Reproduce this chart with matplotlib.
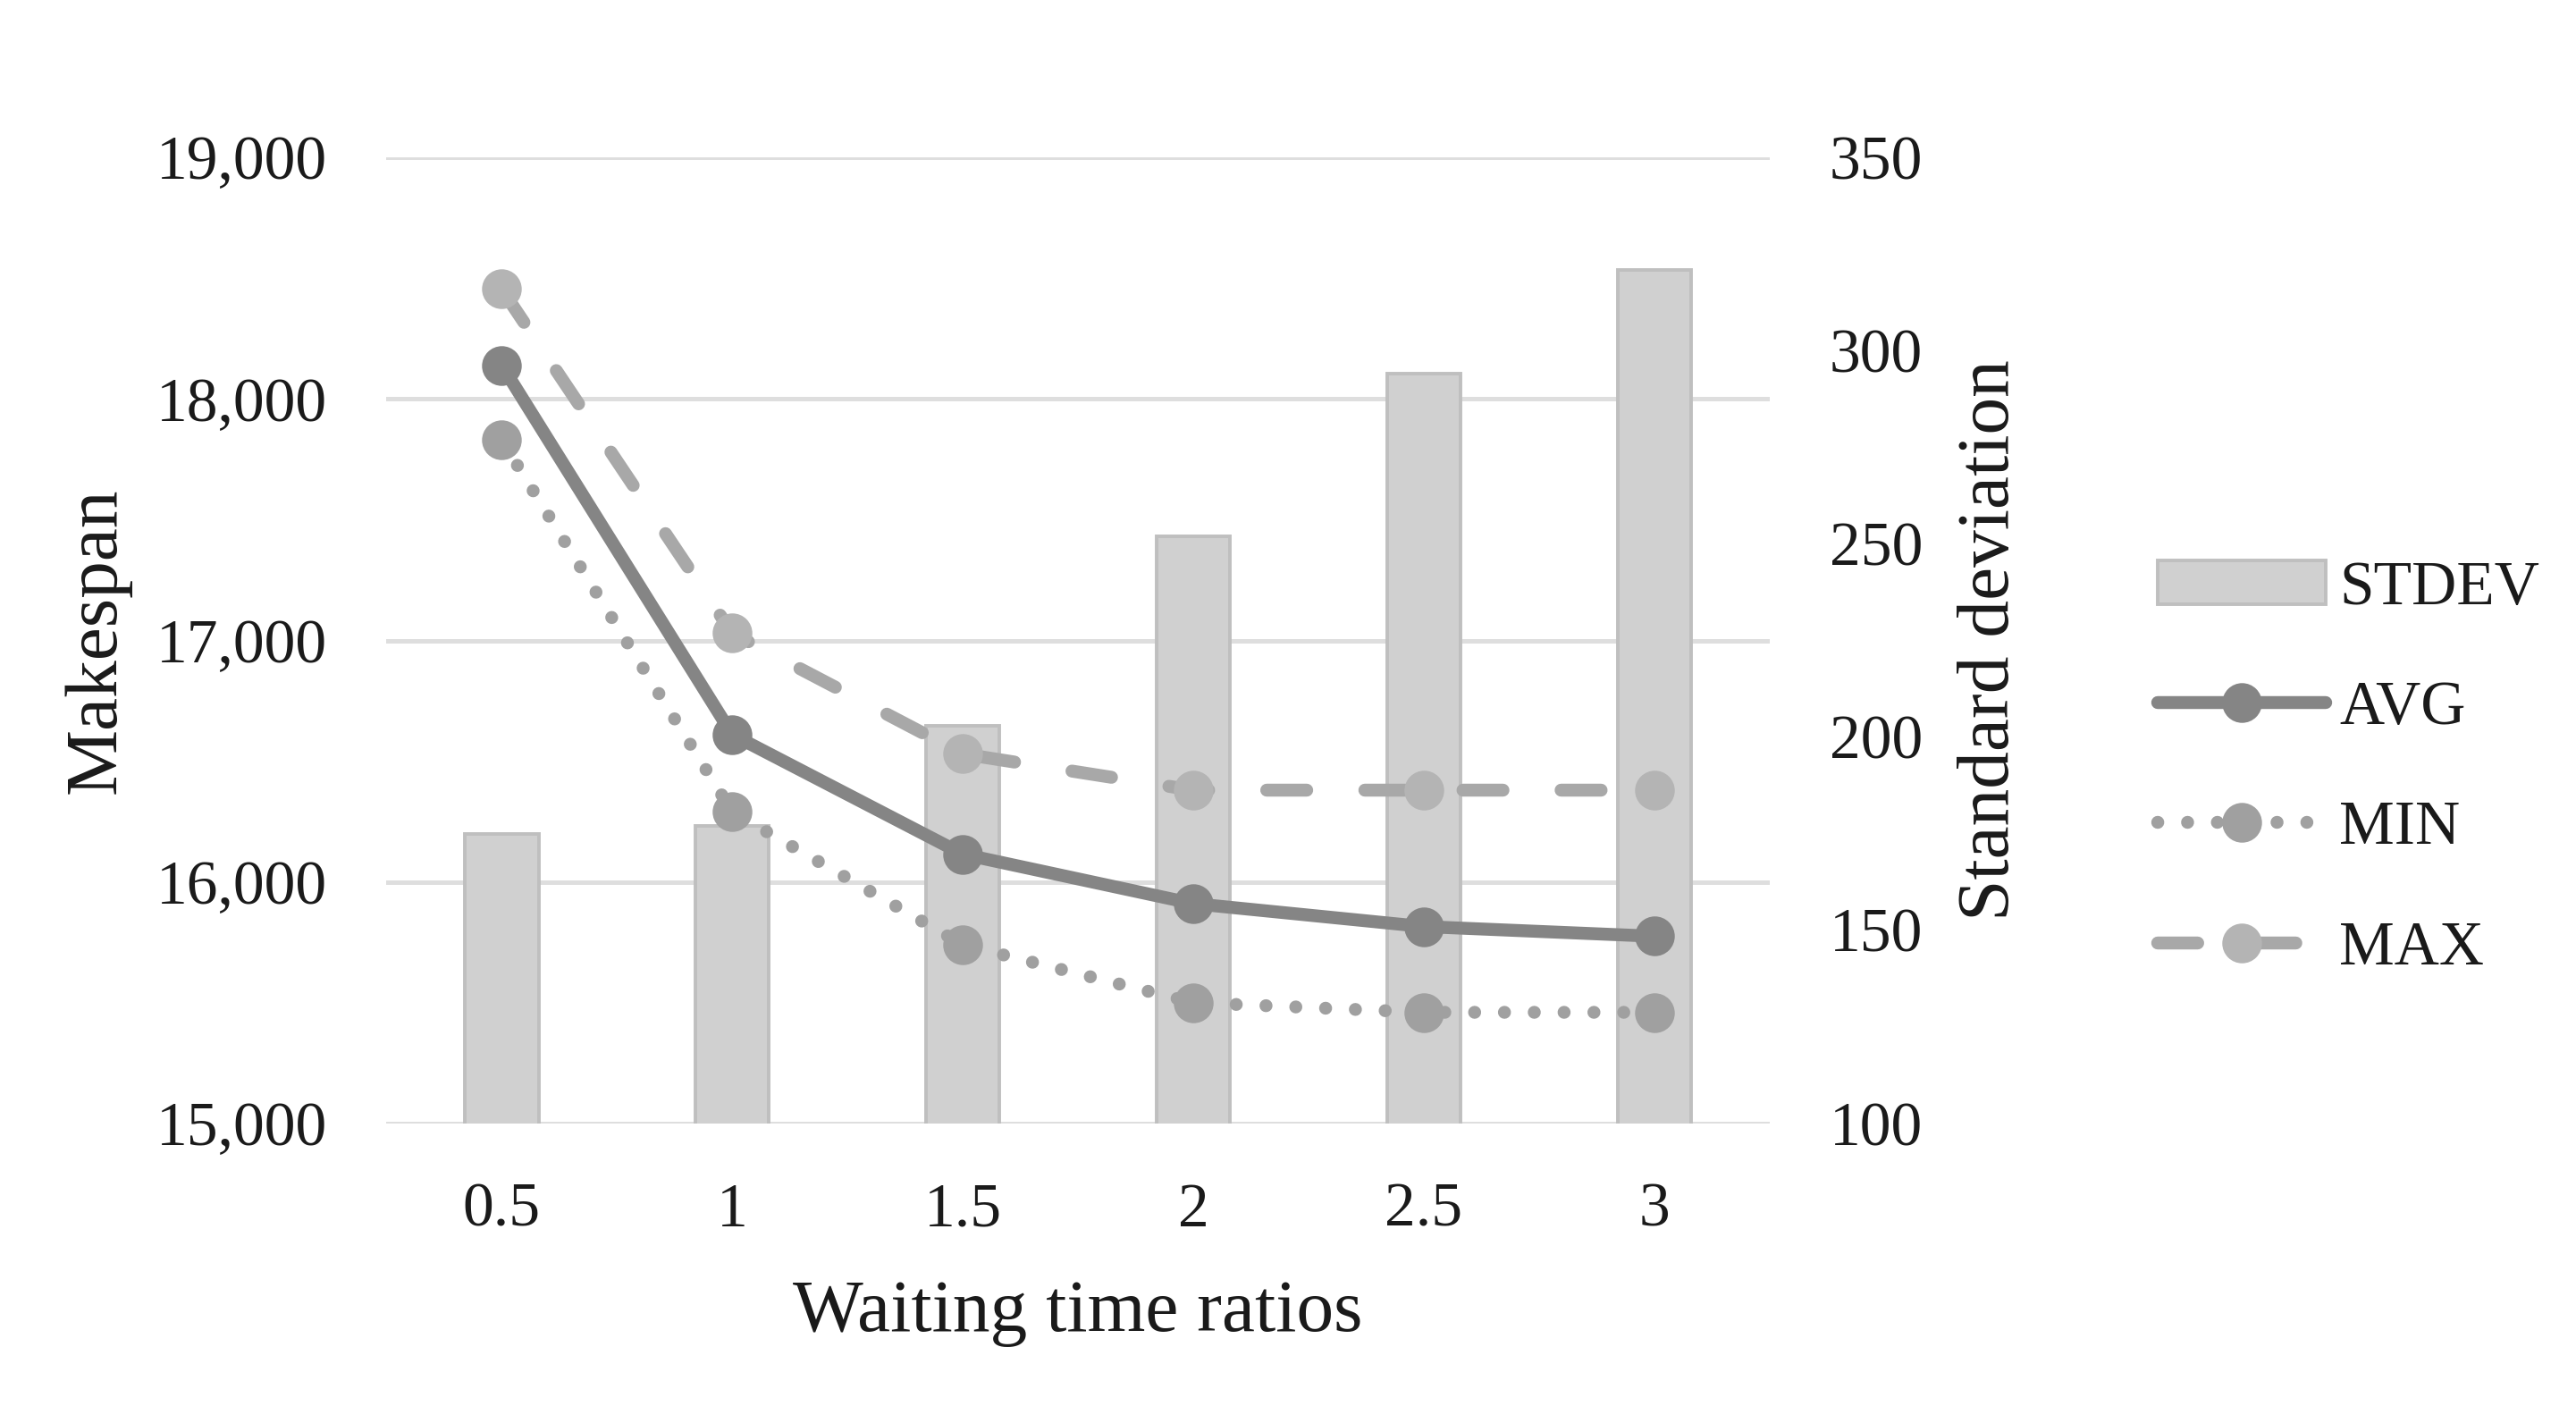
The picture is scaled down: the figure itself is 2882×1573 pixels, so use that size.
import numpy as np
import matplotlib.pyplot as plt

ratios = ["0.5", "1", "1.5", "2", "2.5", "3"]
avg = [18140, 16610, 16115, 15910, 15815, 15775]
mins = [17830, 16290, 15740, 15500, 15460, 15460]
maxs = [18455, 17030, 16530, 16380, 16380, 16380]
stdev = [175, 177, 203, 252, 294, 321]

plt.rcParams['font.family'] = ['Liberation Serif', 'DejaVu Serif']
txt = '#1a1a1a'

fig = plt.figure(figsize=(14.41, 7.865), dpi=200)
ax = fig.add_axes([0.150, 0.201, 0.537, 0.687])
x = np.arange(len(ratios))

# grid + left axis
ax.set_xlim(-0.5, len(ratios) - 0.5)
ax.set_ylim(15000, 19000)
ax.set_yticks([15000, 16000, 17000, 18000, 19000])
ax.set_yticklabels(['15,000', '16,000', '17,000', '18,000', '19,000'])
ax.yaxis.grid(True, color='#dedede', lw=1.8)
ax.set_axisbelow(True)
ax.set_xticks(x)
ax.set_xticklabels(ratios)
ax.tick_params(length=0, labelsize=25, colors=txt)
ax.tick_params(axis='y', pad=24)
ax.tick_params(axis='x', pad=24)
ax.set_ylabel('Makespan', fontsize=30, color=txt, labelpad=10)
ax.set_xlabel('Waiting time ratios', fontsize=30, color=txt, labelpad=16)
for s in ax.spines.values():
    s.set_visible(False)

# bars on right axis
ax2 = ax.twinx()
bars = ax2.bar(x, stdev, width=0.32, color='#d0d0d0', edgecolor='#bfbfbf', lw=1.4, label='STDEV')
ax2.set_ylim(100, 350)
ax2.set_yticks([100, 150, 200, 250, 300, 350])
ax2.tick_params(length=0, labelsize=25, colors=txt, pad=24)
ax2.set_ylabel('Standard deviation', fontsize=30, color=txt, labelpad=14)
for s in ax2.spines.values():
    s.set_visible(False)

# lines on top
ax3 = ax.twinx()
ax3.set_ylim(15000, 19000)
ax3.axis('off')
l1, = ax3.plot(x, avg, color='#858585', lw=5.2, marker='o', ms=15, label='AVG',
               solid_capstyle='round')
l2, = ax3.plot(x, mins, color='#a0a0a0', lw=5.2, marker='o', ms=15, label='MIN',
               linestyle=(0, (0.01, 2.3)), dash_capstyle='round')
l3, = ax3.plot(x, maxs, color='#a8a8a8', lw=5.2, marker='o', ms=15, label='MAX',
               markerfacecolor='#b4b4b4', markeredgecolor='#b4b4b4',
               linestyle=(0, (3.1, 4.5)), dash_capstyle='round')
ax3.set_xlim(-0.5, len(ratios) - 0.5)

fig.legend([bars, l1, l2, l3], ['STDEV', 'AVG', 'MIN', 'MAX'], loc='center left',
           bbox_to_anchor=(0.816, 0.453), frameon=False, fontsize=25,
           handlelength=2.7, handletextpad=0.22, labelspacing=1.02, numpoints=1,
           labelcolor=txt)

fig.savefig('out.png', dpi=200, facecolor='white')
